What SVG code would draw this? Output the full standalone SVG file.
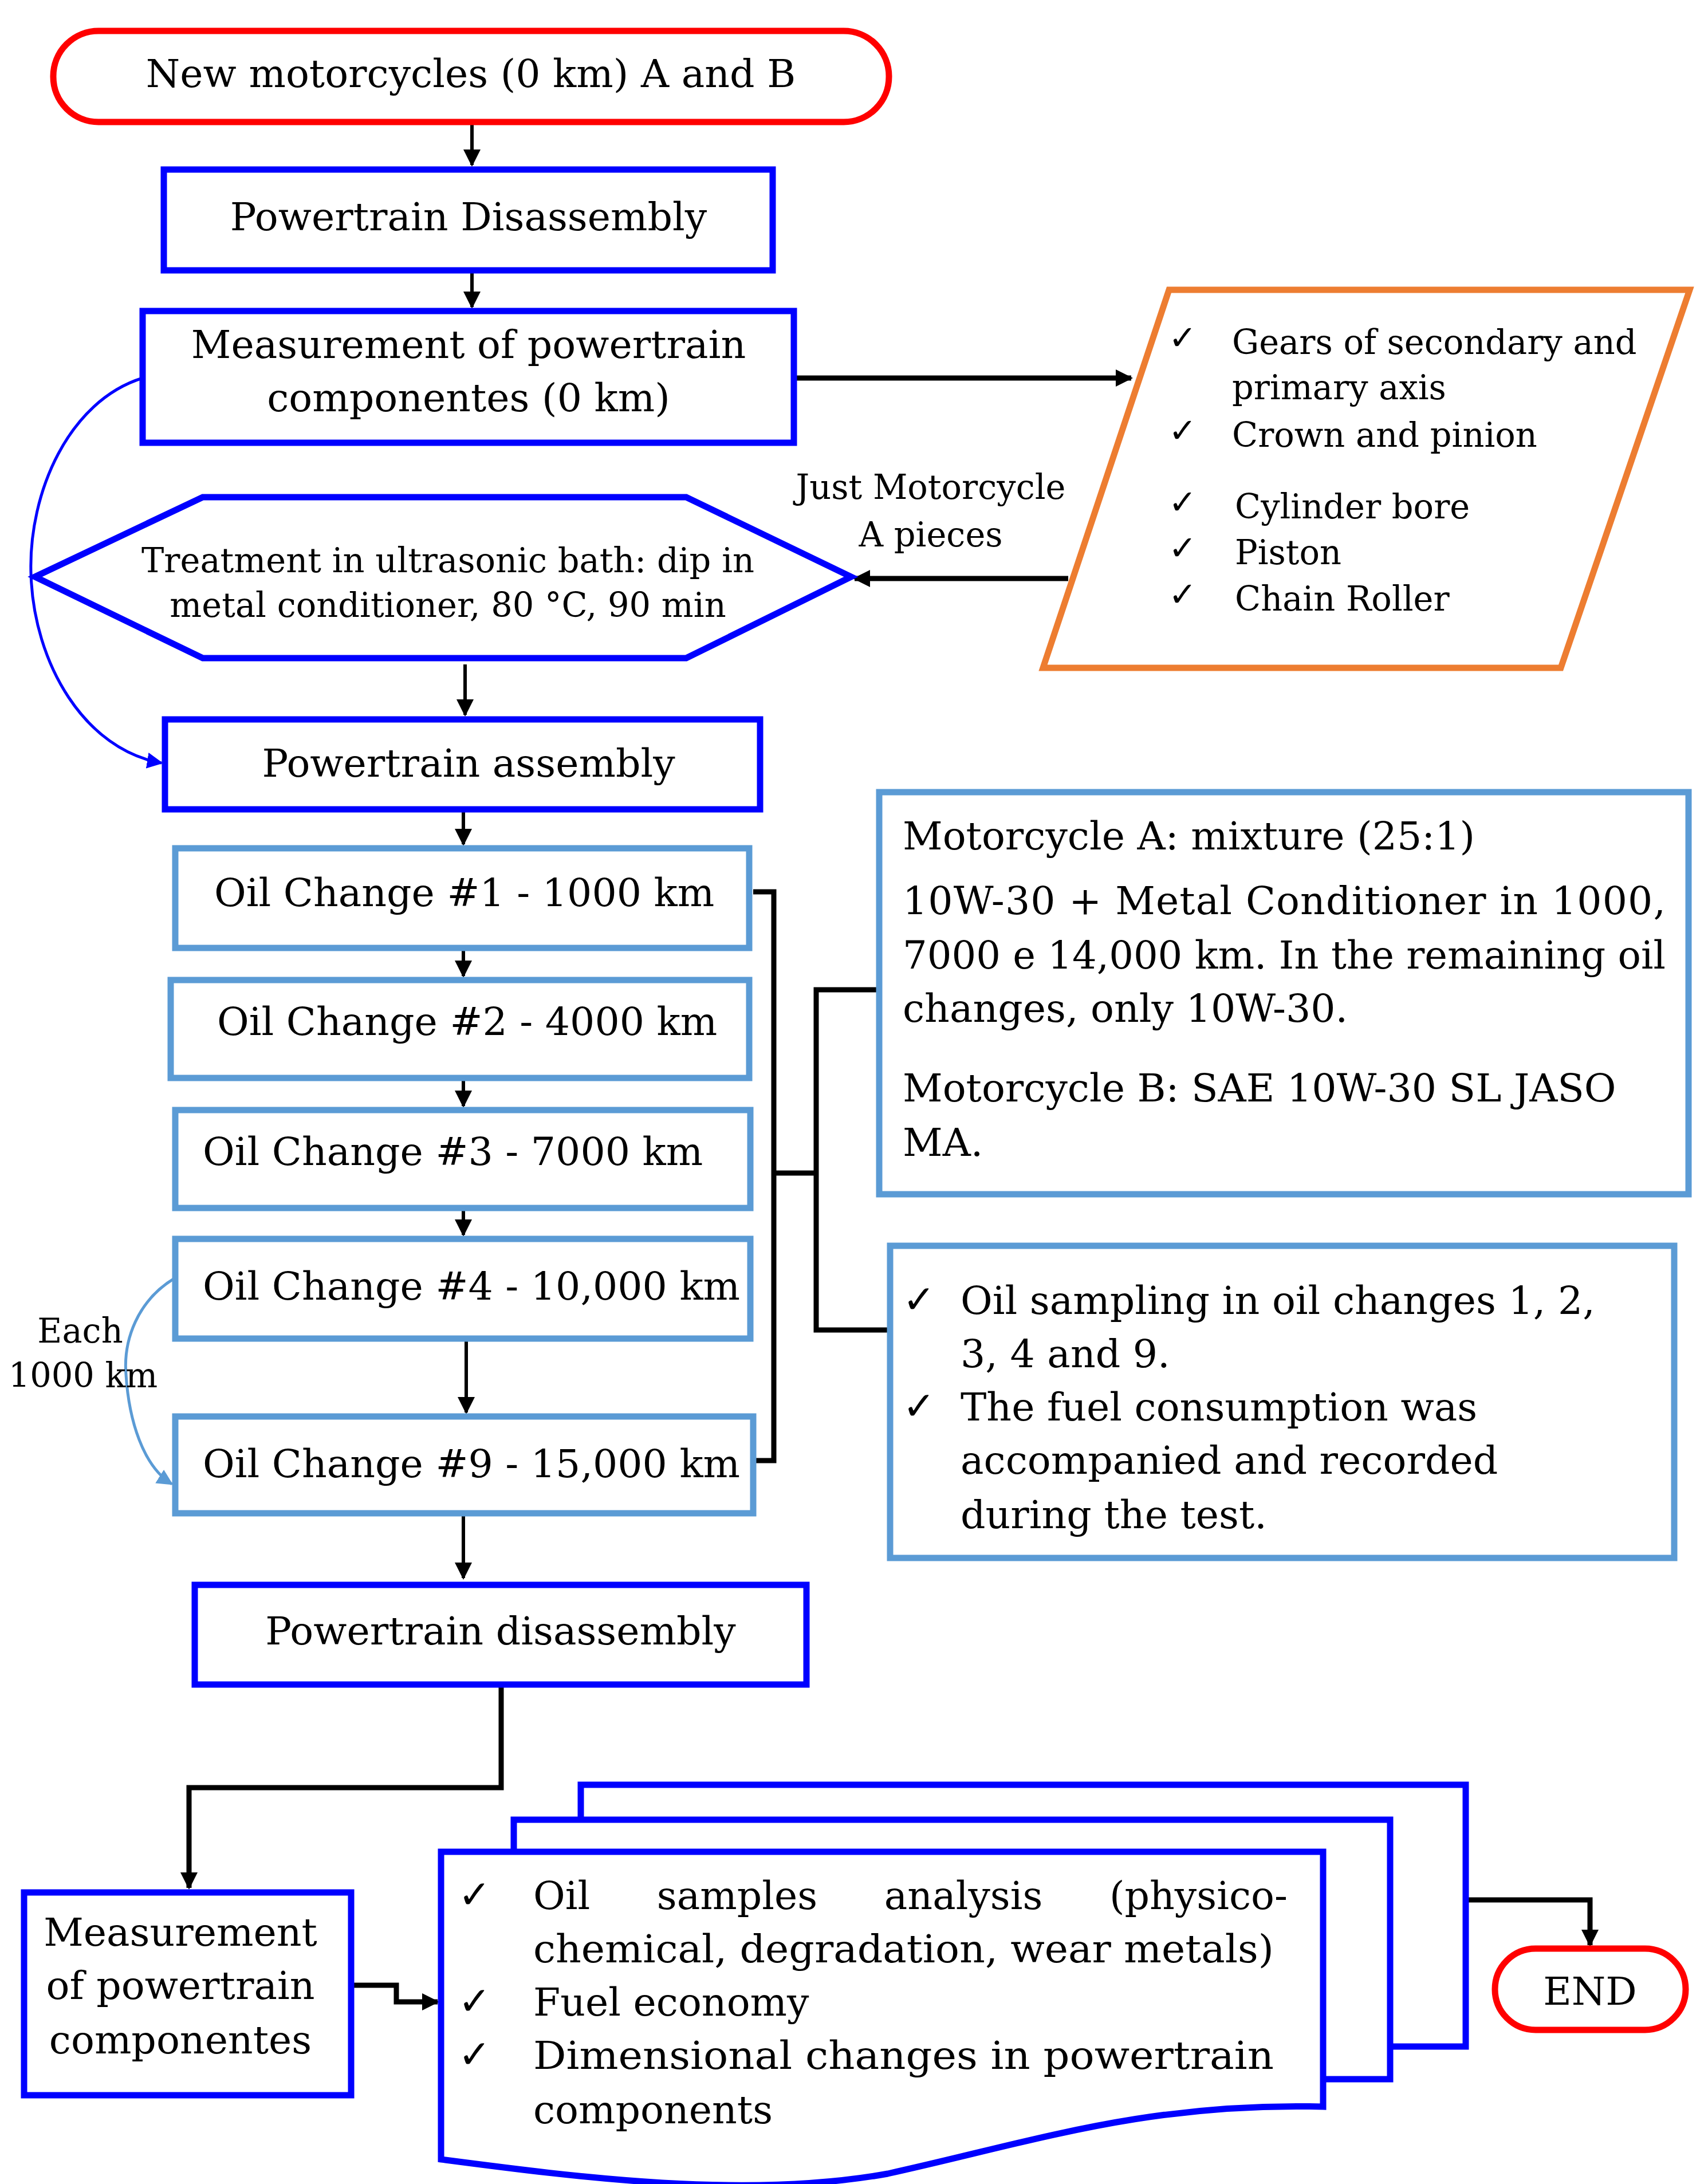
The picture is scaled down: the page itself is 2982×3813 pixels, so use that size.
<svg xmlns="http://www.w3.org/2000/svg" width="2982" height="3813" viewBox="0 0 2982 3813">
<style>
text{font-family:"DejaVu Serif","Liberation Serif",serif;fill:#000}
.t{font-size:68px}
.s{font-size:59px}
.c{text-anchor:middle}
.blue{fill:#fff;stroke:#0000ff;stroke-width:11}
.lb{fill:#fff;stroke:#5b9bd5;stroke-width:11}
.red{fill:#fff;stroke:#ff0000;stroke-width:11}
.ln{fill:none;stroke:#000;stroke-width:6}
.lt{fill:none;stroke:#000;stroke-width:9}
</style>
<defs>
<marker id="ab" viewBox="0 0 10 10" refX="9" refY="5" markerWidth="28" markerHeight="28" orient="auto" markerUnits="userSpaceOnUse"><path d="M0,0L10,5L0,10z" fill="#0000ff"/></marker>
<marker id="al" viewBox="0 0 10 10" refX="9" refY="5" markerWidth="28" markerHeight="28" orient="auto" markerUnits="userSpaceOnUse"><path d="M0,0L10,5L0,10z" fill="#5b9bd5"/></marker>
<marker id="ak" viewBox="0 0 10 10" refX="9" refY="5" markerWidth="30" markerHeight="30" orient="auto" markerUnits="userSpaceOnUse"><path d="M0,0L10,5L0,10z" fill="#000"/></marker>
</defs>
<g id="connectors">
<path class="ln" d="M824,213V288" marker-end="url(#ak)"/>
<path class="ln" d="M824,472V536" marker-end="url(#ak)"/>
<path class="lt" d="M1386,660H1975" marker-end="url(#ak)"/>
<path class="lt" d="M1865,1010H1492" marker-end="url(#ak)"/>
<path class="ln" d="M812,1160V1248" marker-end="url(#ak)"/>
<path fill="none" stroke="#0000ff" stroke-width="5" d="M249,660C120,700 50,860 54,1000C58,1160 150,1310 282,1332" marker-end="url(#ab)"/>
<path class="ln" d="M809,1413V1474" marker-end="url(#ak)"/>
<path class="ln" d="M809,1655V1704" marker-end="url(#ak)"/>
<path class="ln" d="M809,1882V1931" marker-end="url(#ak)"/>
<path class="ln" d="M809,2109V2156" marker-end="url(#ak)"/>
<path class="ln" d="M814,2337V2466" marker-end="url(#ak)"/>
<path fill="none" stroke="#5b9bd5" stroke-width="5" d="M306,2231C240,2270 215,2340 220,2400C225,2480 250,2560 300,2591" marker-end="url(#al)"/>
<path class="lt" d="M1315,1557H1351V2550H1315M1351,2048H1425M1535,1728H1425V2322H1550"/>
<path class="ln" d="M809,2642V2755" marker-end="url(#ak)"/>
<path class="lt" d="M875,2941V3121H330V3296" marker-end="url(#ak)"/>
<path class="lt" d="M613,3466H692V3495H764" marker-end="url(#ak)"/>
<path class="lt" d="M2559,3317H2776V3396" marker-end="url(#ak)"/>
</g>
<g id="start"><rect class="red" x="93" y="54" width="1459" height="159" rx="79"/><text class="t c" x="822" y="152">New motorcycles (0 km) A and B</text></g>
<g id="pd1"><rect class="blue" x="286" y="296" width="1063" height="176"/><text class="t c" x="818" y="402">Powertrain Disassembly</text></g>
<g id="meas1"><rect class="blue" x="249" y="543" width="1137" height="230"/><text class="t c" x="818" y="625">Measurement of powertrain</text><text class="t c" x="818" y="718">componentes (0 km)</text></g>
<g id="treat"><polygon class="blue" points="61,1007 354,868 1198,868 1486,1007 1198,1149 354,1149"/><text class="s c" x="782" y="999">Treatment in ultrasonic bath: dip in</text><text class="s c" x="782" y="1077">metal conditioner, 80 °C, 90 min</text></g>
<g id="parts"><polygon points="2041,506 2950,506 2725,1166 1821,1166" fill="#fff" stroke="#ed7d31" stroke-width="11"/>
<g class="s"><text x="2040" y="610">✓</text><text x="2151" y="618">Gears of secondary and</text><text x="2151" y="697">primary axis</text><text x="2040" y="772">✓</text><text x="2151" y="780">Crown and pinion</text><text x="2040" y="897">✓</text><text x="2156" y="905">Cylinder bore</text><text x="2040" y="977">✓</text><text x="2156" y="985">Piston</text><text x="2040" y="1058">✓</text><text x="2156" y="1066">Chain Roller</text></g></g>
<g id="lbl1"><text class="s c" x="1625" y="871">Just Motorcycle</text><text class="s c" x="1625" y="954">A pieces</text></g>
<g id="pa"><rect class="blue" x="288" y="1256" width="1039" height="157"/><text class="t c" x="818" y="1356">Powertrain assembly</text></g>
<g id="oc1"><rect class="lb" x="306" y="1481" width="1002" height="174"/><text class="t" x="374" y="1582">Oil Change #1 - 1000 km</text></g>
<g id="oc2"><rect class="lb" x="298" y="1711" width="1010" height="171"/><text class="t" x="379" y="1807">Oil Change #2 - 4000 km</text></g>
<g id="oc3"><rect class="lb" x="306" y="1938" width="1004" height="171"/><text class="t" x="354" y="2034">Oil Change #3 - 7000 km</text></g>
<g id="oc4"><rect class="lb" x="306" y="2163" width="1004" height="174"/><text class="t" x="354" y="2269">Oil Change #4 - 10,000 km</text></g>
<g id="oc9"><rect class="lb" x="306" y="2473" width="1009" height="169"/><text class="t" x="354" y="2579">Oil Change #9 - 15,000 km</text></g>
<g id="lbl2"><text class="s c" x="140" y="2344">Each</text><text class="s c" x="145" y="2422">1000 km</text></g>
<g id="mix"><rect class="lb" x="1535" y="1383" width="1413" height="702"/>
<g class="t"><text x="1576" y="1483">Motorcycle A: mixture (25:1)</text><text x="1576" y="1596" textLength="1332" lengthAdjust="spacing">10W-30 + Metal Conditioner in 1000,</text><text x="1576" y="1691" textLength="1332" lengthAdjust="spacingAndGlyphs">7000 e 14,000 km. In the remaining oil</text><text x="1576" y="1784">changes, only 10W-30.</text><text x="1576" y="1923">Motorcycle B: SAE 10W-30 SL JASO</text><text x="1576" y="2018">MA.</text></g></g>
<g id="samp"><rect class="lb" x="1554" y="2175" width="1369" height="545"/>
<g class="t"><text x="1576" y="2292">✓</text><text x="1677" y="2294">Oil sampling in oil changes 1, 2,</text><text x="1677" y="2387">3, 4 and 9.</text><text x="1576" y="2478">✓</text><text x="1677" y="2480">The fuel consumption was</text><text x="1677" y="2573">accompanied and recorded</text><text x="1677" y="2668">during the test.</text></g></g>
<g id="pd2"><rect class="blue" x="340" y="2767" width="1068" height="174"/><text class="t c" x="874" y="2871">Powertrain disassembly</text></g>
<g id="meas2"><rect class="blue" x="42" y="3304" width="571" height="354"/><text class="t c" x="315" y="3397">Measurement</text><text class="t c" x="315" y="3490">of powertrain</text><text class="t c" x="315" y="3585">componentes</text></g>
<g id="docs">
<path class="blue" d="M1014,3177V3116H2559V3573H2427"/>
<path class="blue" d="M897,3233V3177H2427V3630H2310"/>
<path class="blue" d="M770,3233H2310V3678C2000,3670 1800,3740 1550,3795C1300,3840 1000,3800 770,3770Z"/>
<g class="t"><text x="800" y="3331">✓</text><text x="931" y="3333" word-spacing="95">Oil samples analysis (physico-</text><text x="931" y="3426" textLength="1293" lengthAdjust="spacingAndGlyphs">chemical, degradation, wear metals)</text><text x="800" y="3517">✓</text><text x="931" y="3519">Fuel economy</text><text x="800" y="3610">✓</text><text x="931" y="3612" textLength="1293" lengthAdjust="spacingAndGlyphs">Dimensional changes in powertrain</text><text x="931" y="3707">components</text></g></g>
<g id="end"><rect class="red" x="2610" y="3402" width="333" height="142" rx="71"/><text class="t c" x="2776" y="3500">END</text></g>
</svg>
